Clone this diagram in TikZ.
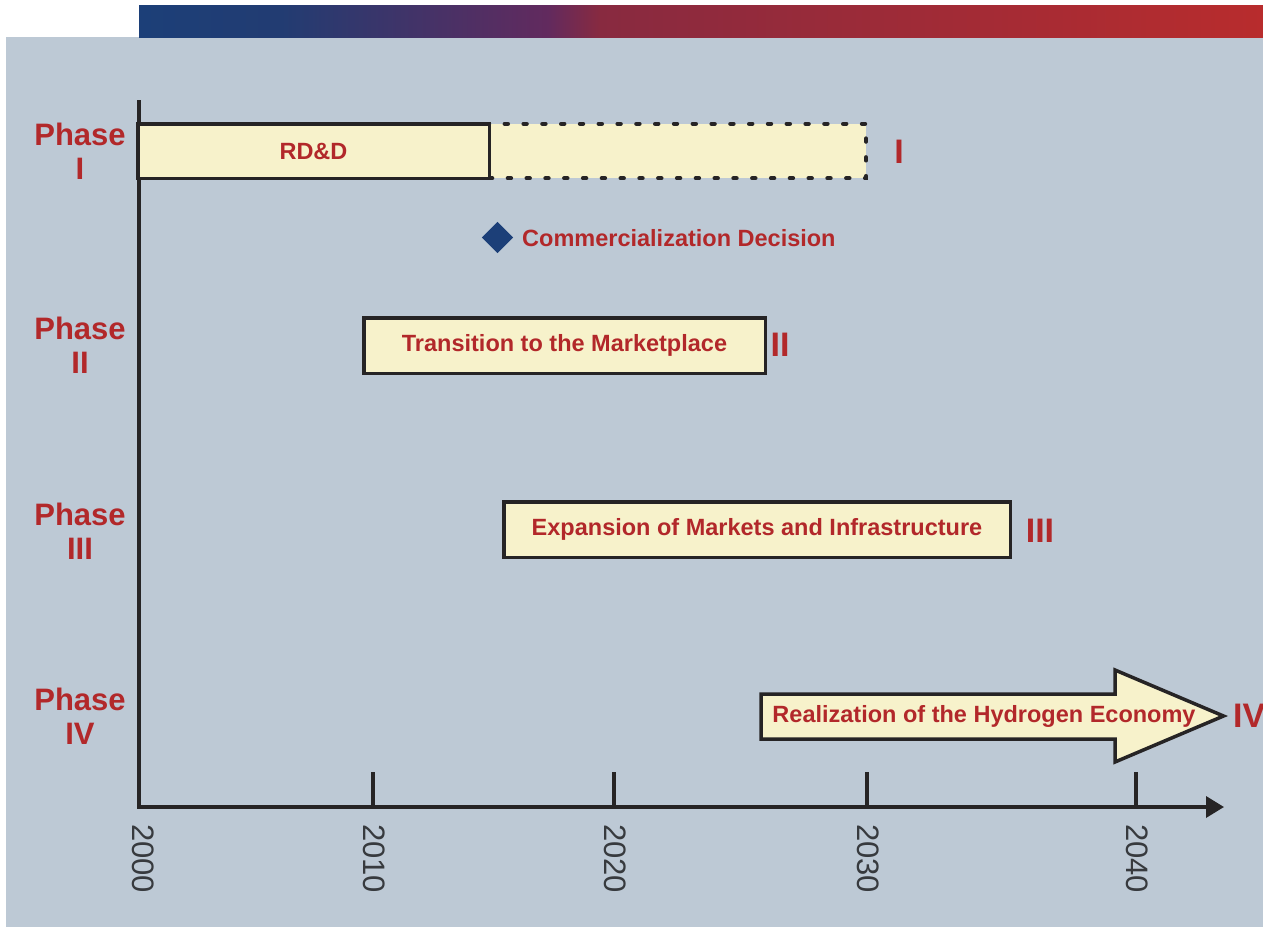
\documentclass[tikz,border=0pt]{standalone}
\usepackage{fontspec}
\setmainfont{Liberation Sans}
\usetikzlibrary{arrows.meta,shapes.geometric}
\definecolor{panel}{RGB}{189,201,213}
\definecolor{boxfill}{RGB}{247,242,203}
\definecolor{txtred}{RGB}{178,40,42}
\definecolor{navy}{RGB}{28,63,120}
\definecolor{ink}{RGB}{38,36,37}
\definecolor{yeargray}{RGB}{55,58,62}
\definecolor{ga}{RGB}{28,63,120}
\definecolor{gb}{RGB}{34,60,114}
\definecolor{gc}{RGB}{98,42,94}
\definecolor{gd}{RGB}{136,42,64}
\definecolor{ge}{RGB}{184,44,45}
\begin{document}
\begin{tikzpicture}[x=1pt,y=-1pt,
  phase/.style={text=txtred, font=\fontsize{31}{34}\selectfont\bfseries, align=center, inner sep=0},
  stage/.style={draw=ink, line width=3.5pt, fill=boxfill, inner sep=0, text=txtred,
    font=\fontsize{23.5}{28}\selectfont\bfseries},
  stagetext/.style={text=txtred, font=\fontsize{23.5}{28}\selectfont\bfseries, inner sep=0},
  roman/.style={text=txtred, font=\fontsize{34}{40}\selectfont\bfseries, inner sep=0},
  year/.style={text=yeargray, font=\fontsize{31}{36}\selectfont, rotate=-90, anchor=west, inner sep=0},
  axis/.style={draw=ink, line width=3.5pt},
  dotline/.style={draw=ink, line width=4.2pt, line cap=round, dash pattern=on 3.2pt off 15.6pt}
]
\useasboundingbox (0,0) rectangle (1263,927);
% background panel and top bar
\fill[panel] (6,37) rectangle (1263,927);
\shade[left color=ga, right color=gb] (139,5) rectangle (281.5,37);
\shade[left color=gb, right color=gc] (281,5) rectangle (548.5,37);
\shade[left color=gc, right color=gd] (548,5) rectangle (600.5,37);
\shade[left color=gd, right color=ge] (600,5) rectangle (1263,37);

% axes
\coordinate (ytop) at (139,100);
\coordinate (xend) at (1224,807);
\draw[axis, -{Triangle[length=18pt,width=21pt]}] (ytop) |- (xend);
\foreach \xx/\yr in {373/2010, 614/2020, 867/2030, 1136/2040}{
  \coordinate (t\yr) at (\xx,807);
  \draw[axis] (t\yr) -- ++(0,-35);
  \node[year] (y\yr) at (\xx+1,824) {\yr};
}
\node[year] (y2000) at (143,824) {2000};

% phase labels
\node[phase] (p1) at (80,151) {Phase\\I};
\node[phase] (p2) at (80,345) {Phase\\II};
\node[phase] (p3) at (80,531) {Phase\\III};
\node[phase] (p4) at (80,716) {Phase\\IV};

% Phase I
\node[dotline, fill=boxfill, minimum width=377pt, minimum height=54.5pt, inner sep=0] (ext) at (677.5,151) {};
\node[stage, minimum width=351.5pt, minimum height=54.5pt] (rdd) at (313.5,151) {RD\&D};
\node[roman] (r1) at (899,152) {I};

% commercialization decision
\node[diamond, fill=navy, minimum width=31.5pt, minimum height=31.5pt, inner sep=0] (dec) at (497.5,237.5) {};
\node[stagetext, anchor=west] (declab) at (522,238) {Commercialization Decision};

% Phase II
\node[stage, minimum width=401.5pt, minimum height=55.5pt] (trans) at (564.5,345.5) {Transition to the Marketplace};
\node[roman] (r2) at (780,345) {II};

% Phase III
\node[stage, minimum width=506.5pt, minimum height=55.5pt] (exp) at (757,529.5) {Expansion of Markets and Infrastructure};
\node[roman] (r3) at (1040,531) {III};

% Phase IV arrow
\draw[stage] (761,694) -- (1115,694) -- (1115,670) -- (1223.5,716) -- (1115,762) -- (1115,739) -- (761,739) -- cycle;
\node[stagetext] (hyd) at (984,716) {Realization of the Hydrogen Economy};
\node[roman, anchor=west] (r4) at (1233,716) {IV};
\end{tikzpicture}
\end{document}
